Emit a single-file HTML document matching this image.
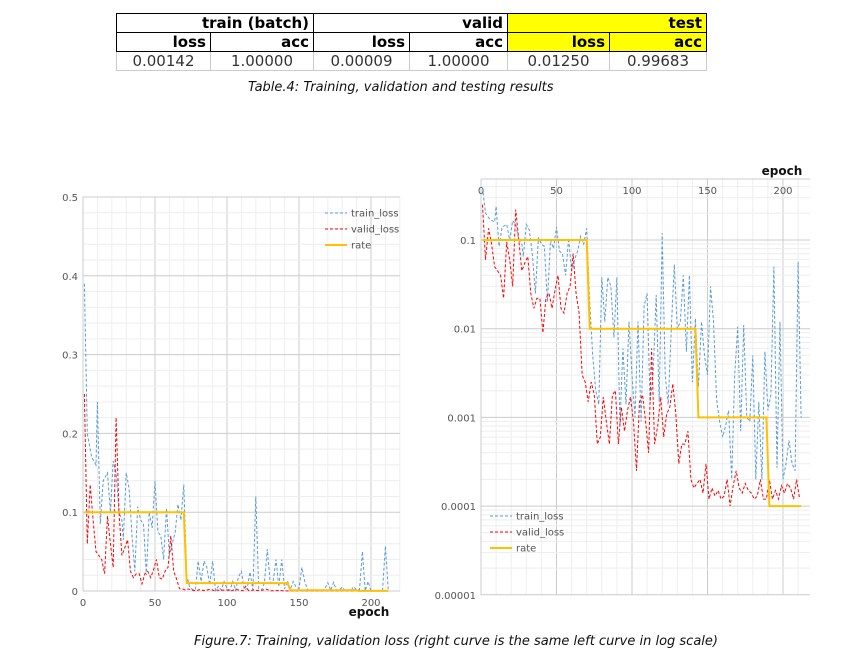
<!DOCTYPE html>
<html><head><meta charset="utf-8">
<style>
html,body{margin:0;padding:0;background:#fff;width:852px;height:662px;overflow:hidden;font-family:"DejaVu Sans","Liberation Sans",sans-serif;}
#tbl{position:absolute;left:116px;top:13px;border-collapse:collapse;}
#tbl td{padding:0 2px;height:18px;line-height:18px;font-size:15px;}
#tbl tr.h td{font-weight:bold;text-align:right;border:1.5px solid #000;color:#000;padding-right:4px;}
#tbl tr.d td{text-align:center;border:1px solid #ccc;color:#333;}
.y{background:#ffff00;}
.cap{position:absolute;font-style:italic;font-size:13px;color:#111;white-space:nowrap;}
svg{position:absolute;left:0;top:0;}
</style></head><body>
<table id="tbl">
<tr class="h"><td colspan="2" style="width:190px">train (batch)</td><td colspan="2">valid</td><td colspan="2" class="y">test</td></tr>
<tr class="h"><td style="width:86px">loss</td><td style="width:95px">acc</td><td style="width:89px">loss</td><td style="width:91px">acc</td><td class="y" style="width:95px">loss</td><td class="y" style="width:90px">acc</td></tr>
<tr class="d"><td>0.00142</td><td>1.00000</td><td>0.00009</td><td>1.00000</td><td>0.01250</td><td>0.99683</td></tr>
</table>
<div class="cap" style="left:248px;top:80px">Table.4: Training, validation and testing results</div>
<div class="cap" style="left:194px;top:634px">Figure.7: Training, validation loss (right curve is the same left curve in log scale)</div>
<svg id="svg" width="852" height="662"></svg>
<script>
const trainEpochs=[1,3,6,9,10,12,14,17,19,21,23,25,27,28,30,32,34,36,38,40,42,44,46,48,50,52,54,56,58,60,62,64,66,68,70,72,74,76,78,80,82,84,86,88,90,92,94,96,98,100,102,104,106,108,110,112,114,116,118,120,122,124,126,128,130,132,134,136,138,140,142,144,146,148,150,152,154,156,158,160,162,164,166,168,170,172,174,176,178,180,182,184,186,188,190,192,194,196,198,200,202,204,206,208,210,212];
const trainLoss=[0.39,0.2,0.17,0.16,0.24,0.085,0.14,0.15,0.1,0.165,0.15,0.1,0.09,0.065,0.15,0.13,0.07,0.025,0.107,0.09,0.085,0.02,0.1,0.08,0.14,0.075,0.07,0.04,0.105,0.045,0.06,0.075,0.11,0.09,0.135,0.02,0.005,0.002,0.0014,0.038,0.012,0.038,0.03,0.008,0.038,0.0008,0.006,0.0014,0.012,0.003,0.001,0.012,0.0009,0.018,0.025,0.0015,0.003,0.024,0.0015,0.12,0.003,0.0014,0.01,0.053,0.01,0.012,0.04,0.0055,0.04,0.0025,0.013,0.0022,0.012,0.005,0.003,0.03,0.012,0.0016,0.0009,0.0006,0.0008,0.0012,0.0002,0.003,0.0105,0.0007,0.011,0.001,0.0009,0.005,0.0002,0.0015,0.0002,0.0055,0.0012,0.0018,0.05,0.00027,0.012,0.0002,0.0003,0.00055,0.0003,0.00025,0.057,0.001];
const validEpochs=[1,3,5,7,9,11,13,15,17,19,21,23,25,27,29,31,33,35,37,39,41,43,45,47,49,51,53,55,57,59,61,63,65,67,69,71,73,75,77,79,81,83,85,87,89,91,93,95,97,99,101,103,105,107,109,111,113,115,117,119,121,123,125,127,129,131,133,135,137,139,141,143,145,147,149,151,153,155,157,159,161,163,165,167,169,171,173,175,177,179,181,183,185,187,189,191,193,195,197,199,201,203,205,207,209,211];
const validLoss=[0.25,0.06,0.135,0.09,0.05,0.045,0.04,0.022,0.095,0.06,0.03,0.22,0.1,0.045,0.055,0.065,0.025,0.017,0.022,0.022,0.009,0.022,0.025,0.017,0.027,0.04,0.017,0.015,0.025,0.03,0.07,0.025,0.015,0.003,0.0025,0.0015,0.0025,0.0018,0.0005,0.0006,0.0017,0.0009,0.0005,0.0018,0.002,0.0005,0.0013,0.0007,0.0012,0.0017,0.0009,0.00025,0.0015,0.0018,0.0009,0.0004,0.006,0.0005,0.0008,0.0017,0.0006,0.0011,0.0013,0.0024,0.0011,0.0003,0.0005,0.0005,0.0007,0.0002,0.00016,0.00018,0.0002,0.00014,0.0003,0.00012,0.00016,0.00013,0.00015,0.00012,0.00013,0.0002,0.0001,0.00017,0.00025,0.00016,0.00014,0.00018,0.00015,0.00014,0.00012,0.00013,0.0002,0.00012,0.00012,0.0002,0.00012,0.00015,0.00012,0.00017,0.00014,0.00018,0.00016,0.00012,0.0002,0.00012];
const rateEpochs=[1,70,72,142,144,189,191,212];
const rateValues=[0.1,0.1,0.01,0.01,0.001,0.001,0.0001,0.0001];
const linTicks=["0","0.1","0.2","0.3","0.4","0.5"];
const logTicks=["0.1","0.01","0.001","0.0001","0.00001"];
const xTicks=["0","50","100","150","200"];

const NS="http://www.w3.org/2000/svg";
const svg=document.getElementById('svg');
function mk(tag,attrs,parent){const e=document.createElementNS(NS,tag);for(const k in attrs)e.setAttribute(k,attrs[k]);(parent||svg).appendChild(e);return e;}
function txt(x,y,s,attrs,parent){const t=mk('text',Object.assign({x:x,y:y,'font-family':'DejaVu Sans, Liberation Sans, sans-serif','font-size':10,fill:'#555'},attrs||{}),parent);t.textContent=s;return t;}

// ---- left (linear) chart ----
const L={x0:83,x1:400,y0:591,y1:197};
const lx=e=>L.x0+e*1.44;
const ly=v=>L.y0-v*788;
const gL=mk('g',{});


for(let e=10;e<=220;e+=10){if(lx(e)>L.x1)break;mk('line',{x1:lx(e),x2:lx(e),y1:L.y1,y2:L.y0,stroke:e%50?'#eee':'#ccc','stroke-width':1},gL);}
for(let i=1;i<=25;i++){const v=i*0.02;mk('line',{x1:L.x0,x2:L.x1,y1:ly(v),y2:ly(v),stroke:i%5?'#eee':'#ccc','stroke-width':1},gL);}
mk('line',{x1:L.x0,x2:L.x0,y1:L.y1,y2:L.y0,stroke:'#ccc'},gL);
mk('line',{x1:L.x0,x2:L.x1,y1:L.y0,y2:L.y0,stroke:'#ccc'},gL);
linTicks.forEach((s,i)=>{const t=txt(78,ly(i*0.1)+4,s,{'text-anchor':'end'},gL);});
xTicks.forEach((s,i)=>{const t=txt(lx(i*50),606,s,{'text-anchor':'middle'},gL);});
const ltitle=txt(369,616,'epoch',{'font-size':12,fill:'#111','font-weight':'bold','text-anchor':'middle'},gL);

function path(xs,ys,fx,fy,attrs,name,g){const d=xs.map((e,i)=>(i?'L':'M')+fx(e).toFixed(1)+','+fy(ys[i]).toFixed(1)).join(' ');const p=mk('path',Object.assign({d:d,fill:'none'},attrs),g);return p;}
const tAttr={stroke:'#5b9bd5','stroke-width':1,'stroke-dasharray':'3,2'};
const vAttr={stroke:'#ff0000','stroke-width':1,'stroke-dasharray':'3,2'};
const rAttr={stroke:'#ffc000','stroke-width':2};
path(trainEpochs,trainLoss,lx,ly,tAttr,'train-loss-line',gL);
path(validEpochs,validLoss,lx,ly,vAttr,'valid-loss-line',gL);
path(rateEpochs,rateValues,lx,ly,rAttr,'rate-line',gL);
function legend(x,y,g){
 [['train_loss',tAttr],['valid_loss',vAttr],['rate',rAttr]].forEach((it,i)=>{
  const l=mk('line',Object.assign({x1:x,x2:x+22,y1:y+i*16,y2:y+i*16},it[1]),g);
  
  const t=txt(x+26,y+i*16+3.5,it[0],{},g);
  
 });}
legend(325,213,gL);

// ---- right (log) chart ----
const R={x0:481,x1:810,y1:179,y0:595};
const rx=e=>R.x0+e*1.51;
const ry=v=>240-(Math.log10(v)+1)*88.7;
const gR=mk('g',{});


for(let e=10;e<=220;e+=10){if(rx(e)>R.x1)break;mk('line',{x1:rx(e),x2:rx(e),y1:R.y1,y2:R.y0,stroke:e%50?'#eee':'#ccc'},gR);}
for(let d=-5;d<=-1;d++){for(let m=1;m<10;m++){const v=m*Math.pow(10,d);const y=ry(v);if(y<R.y1)continue;mk('line',{x1:R.x0,x2:R.x1,y1:y,y2:y,stroke:m===1?'#ccc':'#eee'},gR);}}
mk('line',{x1:R.x0,x2:R.x0,y1:R.y1,y2:R.y0,stroke:'#ccc'},gR);
mk('line',{x1:R.x0,x2:R.x1,y1:R.y1,y2:R.y1,stroke:'#ccc'},gR);
logTicks.forEach((s,i)=>{const t=txt(476,ry(Math.pow(10,-1-i))+4,s,{'text-anchor':'end'},gR);});
xTicks.forEach((s,i)=>{const t=txt(rx(i*50),194,s,{'text-anchor':'middle'},gR);});
const rtitle=txt(782,175,'epoch',{'font-size':12,fill:'#111','font-weight':'bold','text-anchor':'middle'},gR);

path(trainEpochs,trainLoss,rx,ry,tAttr,'train-loss-line',gR);
path(validEpochs,validLoss,rx,ry,vAttr,'valid-loss-line',gR);
path(rateEpochs,rateValues,rx,ry,rAttr,'rate-line',gR);
legend(490,516,gR);
</script>
</body></html>
